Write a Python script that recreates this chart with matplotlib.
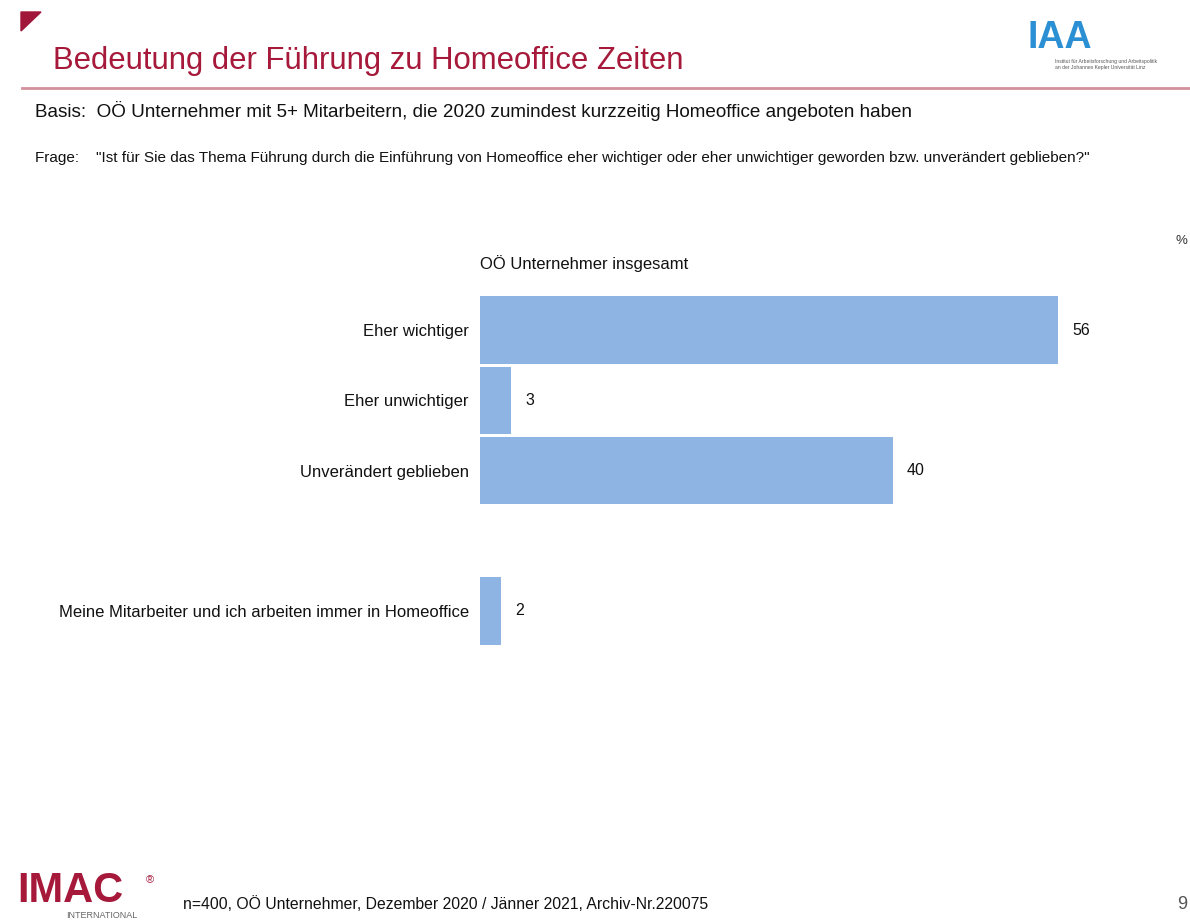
import matplotlib.pyplot as plt
from matplotlib.patches import Polygon

plt.rcParams['font.family'] = ['Liberation Sans', 'DejaVu Sans']

# data
categories = ["Eher wichtiger", "Eher unwichtiger", "Unverändert geblieben",
              "Meine Mitarbeiter und ich arbeiten immer in Homeoffice"]
values = [56, 3, 40, 2]
positions = [0, 1, 2, 4]

title = "Bedeutung der Führung zu Homeoffice Zeiten"
basis = "Basis:  OÖ Unternehmer mit 5+ Mitarbeitern, die 2020 zumindest kurzzeitig Homeoffice angeboten haben"
frage = ("Frage:    \"Ist für Sie das Thema Führung durch die Einführung von Homeoffice eher wichtiger "
         "oder eher unwichtiger geworden bzw. unverändert geblieben?\"")
footer = "n=400, OÖ Unternehmer, Dezember 2020 / Jänner 2021, Archiv-Nr.220075"

W, H = 1190, 922
fig = plt.figure(figsize=(W / 100, H / 100), dpi=100)

def fx(px):
    return px / W

def fy(py):
    return 1 - py / H

# header
fig.patches.append(Polygon([[fx(21), fy(12)], [fx(41), fy(12)], [fx(21), fy(31)]],
                           closed=True, transform=fig.transFigure, color='#A0173A'))
fig.text(fx(53), fy(61), title, fontsize=22.4, color='#A6193A', va='center')
fig.add_artist(plt.Line2D([fx(22), fx(1190)], [fy(88), fy(88)], transform=fig.transFigure,
                          color='#D4909C', lw=2))
fig.text(fx(1028), fy(38), "IAA", fontsize=27, color='#2A8FD3', fontweight='bold', va='center')
fig.text(fx(1055), fy(61), "Institut für Arbeitsforschung und Arbeitspolitik", fontsize=3.6,
         color='#555555', va='center')
fig.text(fx(1055), fy(68), "an der Johannes Kepler Universität Linz", fontsize=3.6,
         color='#555555', va='center')

fig.text(fx(35), fy(111), basis, fontsize=13.6, color='#111111', va='center')
fig.text(fx(35), fy(158), frage, fontsize=11, color='#111111', va='center')
fig.text(fx(1176), fy(241), "%", fontsize=9.5, color='#333333', va='center')

# chart
ax = fig.add_axes([fx(480), fy(646), fx(1099) - fx(480), (646 - 295) / H])
ax.barh(positions, values, height=0.96, color='#8EB4E3')
ax.set_xlim(0, 60)
ax.set_ylim(4.5, -0.5)
for p, v in zip(positions, values):
    ax.text(v + 1.4, p, str(v), va='center', ha='left', fontsize=11.5, color='#111111')
ax.set_yticks(positions)
ax.set_yticklabels(categories, fontsize=12, color='#111111')
ax.tick_params(axis='y', length=0, pad=8)
ax.set_xticks([])
for s in ax.spines.values():
    s.set_visible(False)
ax.text(0, -0.95, "OÖ Unternehmer insgesamt", fontsize=12, color='#111111', va='center')

# footer
fig.text(fx(17), fy(891), "IMAC", fontsize=30, color='#A6193A', fontweight='bold', va='center')
fig.text(fx(146), fy(880), "®", fontsize=8, color='#A6193A', va='center')
fig.text(fx(66), fy(915), "INTERNATIONAL", fontsize=6.5, color='#666666', va='center')
fig.text(fx(183), fy(904), footer, fontsize=11.3, color='#111111', va='center')
fig.text(fx(1177), fy(904), "9", fontsize=13, color='#555555', va='center')

fig.savefig("out.png", dpi=100)
